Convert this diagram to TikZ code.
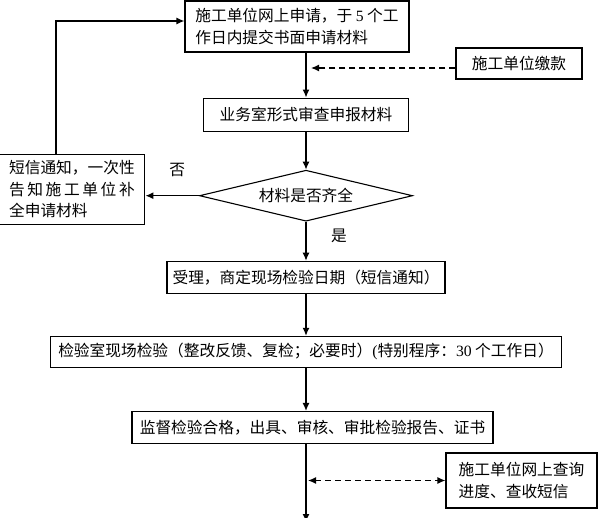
\documentclass[tikz,border=0pt]{standalone}
\usepackage{fontspec}
\setmainfont{Noto Sans CJK SC}
\newfontfamily\latin{Liberation Serif}
\usetikzlibrary{arrows.meta, shapes.geometric, positioning}

\begin{document}
\begin{tikzpicture}[
    x=1pt, y=1pt,
    font=\fontsize{15.7pt}{21.5pt}\selectfont,
    box/.style={draw, line width=1.1pt, inner sep=3pt, minimum height=32pt, align=center},
    check/.style={draw, diamond, line width=1.1pt, aspect=4.2, inner sep=0pt,
                  minimum width=213pt, minimum height=51pt},
    lbl/.style={inner sep=0pt},
    ar/.style={-{Latex[length=8pt, width=7pt]}, line width=1.3pt},
    dar/.style={ar, dash pattern=on 6pt off 4pt}
]
\useasboundingbox (0,0) rectangle (599,-518);
% main column (top to bottom)
\node[box, minimum width=224pt, minimum height=51pt, align=left] (apply) at (297,-26.5)
     {施工单位网上申请，于 {\latin 5} 个工\\作日内提交书面申请材料};
\node[box, minimum width=205pt, minimum height=33pt, below=45pt of apply, xshift=9pt] (review) {业务室形式审查申报材料};
\node[check, below=38pt of review] (full) {材料是否齐全};
\node[box, minimum width=278pt, below=39pt of full] (accept) {受理，商定现场检验日期（短信通知）};
\node[box, minimum width=511pt, minimum height=31pt, below=42pt of accept] (inspect)
     {检验室现场检验（整改反馈、复检；必要时）{\latin (}特别程序：{\latin 30} 个工作日）};
\node[box, minimum width=361pt, below=43pt of inspect, xshift=6.5pt] (cert) {监督检验合格，出具、审核、审批检验报告、证书};
\coordinate[below=78pt of cert, xshift=-6.5pt] (done);
% main column arrows
\draw[ar] (apply.south -| review) -- (review);
\foreach \a/\b in {review/full, accept/inspect}
   \draw[ar] (\a) -- (\b);
\draw[ar] (full) -- node[lbl, right=24.5pt, pos=0.36] (yes) {是} (accept);
\draw[ar] (inspect) -- (inspect |- cert.north);
\draw[ar] (cert.south -| done) -- (done);
% side boxes
\node[box, minimum width=146pt, minimum height=70pt, align=left, left=53.5pt of full, yshift=6.5pt] (notify)
     {短信通知，一次性\\\makebox[8em][s]{告\hfill 知\hfill 施\hfill 工\hfill 单\hfill 位\hfill 补}\\全申请材料};
\node[box, minimum width=126pt, minimum height=31pt] (pay) at (519,-63.5) {施工单位缴款};
\node[box, minimum width=151pt, minimum height=55pt, align=left] (query) at (521.5,-480.5)
     {施工单位网上查询\\进度、查收短信};
% side connectors
\draw[ar] (full.west) -- node[lbl, above=18pt, xshift=5pt] (no) {否} (full.west -| notify.east);
\draw[ar] ([xshift=-16pt]notify.north) |- ([yshift=5.5pt]apply.west);
\draw[dar, shorten >=5pt] ([yshift=-4.5pt]pay.west) -- ([yshift=-4.5pt]pay.west -| review);
\draw[dar, {Latex[length=8pt, width=7pt]}-{Latex[length=8pt, width=7pt]}, shorten <=2pt]
     (query.west -| done) -- (query.west);
\end{tikzpicture}
\end{document}
